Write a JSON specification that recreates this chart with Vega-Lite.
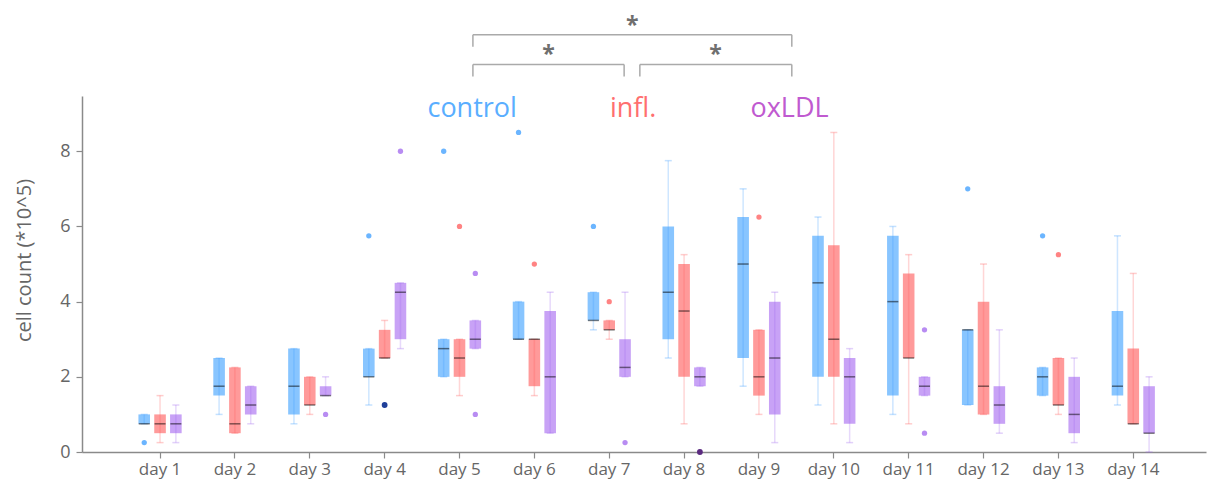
{
  "$schema": "https://vega.github.io/schema/vega-lite/v6.json",
  "width": 1124,
  "height": 356,
  "autosize": "none",
  "padding": {"left": 82, "top": 96, "right": 2, "bottom": 32},
  "config": {
    "font": "Open Sans",
    "view": {"stroke": null},
    "legend": {"disable": true},
    "axis": {
      "grid": false,
      "domainColor": "#8a8a8a",
      "domainWidth": 1.5,
      "tickColor": "#8a8a8a",
      "tickWidth": 1.2,
      "tickSize": 6,
      "labelColor": "#666666",
      "titleColor": "#666666",
      "labelFont": "Open Sans",
      "titleFont": "Open Sans",
      "titleFontWeight": "normal"
    },
    "axisX": {"labelFontSize": 17, "labelPadding": 3},
    "axisY": {"labelFontSize": 18, "labelPadding": 6, "titleFontSize": 20, "titleX": -52, "titleY": 164, "titleBaseline": "alphabetic", "titleAlign": "center", "titleAngle": -90, "tickCount": 5}
  },
  "datasets": {
    "boxes": [
      {"day": 1, "group": "control", "lo": 0.75, "q1": 0.75, "med": 0.75, "q3": 1.0, "hi": 1.0},
      {"day": 1, "group": "infl.", "lo": 0.25, "q1": 0.5, "med": 0.75, "q3": 1.0, "hi": 1.5},
      {"day": 1, "group": "oxLDL", "lo": 0.25, "q1": 0.5, "med": 0.75, "q3": 1.0, "hi": 1.25},
      {"day": 2, "group": "control", "lo": 1.0, "q1": 1.5, "med": 1.75, "q3": 2.5, "hi": 2.5},
      {"day": 2, "group": "infl.", "lo": 0.5, "q1": 0.5, "med": 0.75, "q3": 2.25, "hi": 2.25},
      {"day": 2, "group": "oxLDL", "lo": 0.75, "q1": 1.0, "med": 1.25, "q3": 1.75, "hi": 1.75},
      {"day": 3, "group": "control", "lo": 0.75, "q1": 1.0, "med": 1.75, "q3": 2.75, "hi": 2.75},
      {"day": 3, "group": "infl.", "lo": 1.0, "q1": 1.25, "med": 1.25, "q3": 2.0, "hi": 2.0},
      {"day": 3, "group": "oxLDL", "lo": 1.5, "q1": 1.5, "med": 1.5, "q3": 1.75, "hi": 2.0},
      {"day": 4, "group": "control", "lo": 1.25, "q1": 2.0, "med": 2.0, "q3": 2.75, "hi": 2.75},
      {"day": 4, "group": "infl.", "lo": 2.5, "q1": 2.5, "med": 2.5, "q3": 3.25, "hi": 3.5},
      {"day": 4, "group": "oxLDL", "lo": 2.75, "q1": 3.0, "med": 4.25, "q3": 4.5, "hi": 4.5},
      {"day": 5, "group": "control", "lo": 2.0, "q1": 2.0, "med": 2.75, "q3": 3.0, "hi": 3.0},
      {"day": 5, "group": "infl.", "lo": 1.5, "q1": 2.0, "med": 2.5, "q3": 3.0, "hi": 3.0},
      {"day": 5, "group": "oxLDL", "lo": 2.75, "q1": 2.75, "med": 3.0, "q3": 3.5, "hi": 3.5},
      {"day": 6, "group": "control", "lo": 3.0, "q1": 3.0, "med": 3.0, "q3": 4.0, "hi": 4.0},
      {"day": 6, "group": "infl.", "lo": 1.5, "q1": 1.75, "med": 3.0, "q3": 3.0, "hi": 3.0},
      {"day": 6, "group": "oxLDL", "lo": 0.5, "q1": 0.5, "med": 2.0, "q3": 3.75, "hi": 4.25},
      {"day": 7, "group": "control", "lo": 3.25, "q1": 3.5, "med": 3.5, "q3": 4.25, "hi": 4.25},
      {"day": 7, "group": "infl.", "lo": 3.0, "q1": 3.25, "med": 3.25, "q3": 3.5, "hi": 3.5},
      {"day": 7, "group": "oxLDL", "lo": 2.0, "q1": 2.0, "med": 2.25, "q3": 3.0, "hi": 4.25},
      {"day": 8, "group": "control", "lo": 2.5, "q1": 3.0, "med": 4.25, "q3": 6.0, "hi": 7.75},
      {"day": 8, "group": "infl.", "lo": 0.75, "q1": 2.0, "med": 3.75, "q3": 5.0, "hi": 5.25},
      {"day": 8, "group": "oxLDL", "lo": 1.75, "q1": 1.75, "med": 2.0, "q3": 2.25, "hi": 2.25},
      {"day": 9, "group": "control", "lo": 1.75, "q1": 2.5, "med": 5.0, "q3": 6.25, "hi": 7.0},
      {"day": 9, "group": "infl.", "lo": 1.0, "q1": 1.5, "med": 2.0, "q3": 3.25, "hi": 3.25},
      {"day": 9, "group": "oxLDL", "lo": 0.25, "q1": 1.0, "med": 2.5, "q3": 4.0, "hi": 4.25},
      {"day": 10, "group": "control", "lo": 1.25, "q1": 2.0, "med": 4.5, "q3": 5.75, "hi": 6.25},
      {"day": 10, "group": "infl.", "lo": 0.75, "q1": 2.0, "med": 3.0, "q3": 5.5, "hi": 8.5},
      {"day": 10, "group": "oxLDL", "lo": 0.25, "q1": 0.75, "med": 2.0, "q3": 2.5, "hi": 2.75},
      {"day": 11, "group": "control", "lo": 1.0, "q1": 1.5, "med": 4.0, "q3": 5.75, "hi": 6.0},
      {"day": 11, "group": "infl.", "lo": 0.75, "q1": 2.5, "med": 2.5, "q3": 4.75, "hi": 5.25},
      {"day": 11, "group": "oxLDL", "lo": 1.5, "q1": 1.5, "med": 1.75, "q3": 2.0, "hi": 2.0},
      {"day": 12, "group": "control", "lo": 1.25, "q1": 1.25, "med": 3.25, "q3": 3.25, "hi": 3.25},
      {"day": 12, "group": "infl.", "lo": 1.0, "q1": 1.0, "med": 1.75, "q3": 4.0, "hi": 5.0},
      {"day": 12, "group": "oxLDL", "lo": 0.5, "q1": 0.75, "med": 1.25, "q3": 1.75, "hi": 3.25},
      {"day": 13, "group": "control", "lo": 1.5, "q1": 1.5, "med": 2.0, "q3": 2.25, "hi": 2.25},
      {"day": 13, "group": "infl.", "lo": 1.0, "q1": 1.25, "med": 1.25, "q3": 2.5, "hi": 2.5},
      {"day": 13, "group": "oxLDL", "lo": 0.25, "q1": 0.5, "med": 1.0, "q3": 2.0, "hi": 2.5},
      {"day": 14, "group": "control", "lo": 1.25, "q1": 1.5, "med": 1.75, "q3": 3.75, "hi": 5.75},
      {"day": 14, "group": "infl.", "lo": 0.75, "q1": 0.75, "med": 0.75, "q3": 2.75, "hi": 4.75},
      {"day": 14, "group": "oxLDL", "lo": 0.0, "q1": 0.5, "med": 0.5, "q3": 1.75, "hi": 2.0}
    ],
    "outliers": [
      {"day": 1, "group": "control", "value": 0.25, "kind": "outlier"},
      {"day": 3, "group": "oxLDL", "value": 1.0, "kind": "outlier"},
      {"day": 4, "group": "control", "value": 5.75, "kind": "outlier"},
      {"day": 4, "group": "infl.", "value": 1.25, "kind": "extreme"},
      {"day": 4, "group": "oxLDL", "value": 8.0, "kind": "outlier"},
      {"day": 5, "group": "control", "value": 8.0, "kind": "outlier"},
      {"day": 5, "group": "infl.", "value": 6.0, "kind": "outlier"},
      {"day": 5, "group": "oxLDL", "value": 4.75, "kind": "outlier"},
      {"day": 5, "group": "oxLDL", "value": 1.0, "kind": "outlier"},
      {"day": 6, "group": "control", "value": 8.5, "kind": "outlier"},
      {"day": 6, "group": "infl.", "value": 5.0, "kind": "outlier"},
      {"day": 7, "group": "control", "value": 6.0, "kind": "outlier"},
      {"day": 7, "group": "infl.", "value": 4.0, "kind": "outlier"},
      {"day": 7, "group": "oxLDL", "value": 0.25, "kind": "outlier"},
      {"day": 8, "group": "oxLDL", "value": 0.0, "kind": "extreme"},
      {"day": 9, "group": "infl.", "value": 6.25, "kind": "outlier"},
      {"day": 11, "group": "oxLDL", "value": 3.25, "kind": "outlier"},
      {"day": 11, "group": "oxLDL", "value": 0.5, "kind": "outlier"},
      {"day": 12, "group": "control", "value": 7.0, "kind": "outlier"},
      {"day": 13, "group": "control", "value": 5.75, "kind": "outlier"},
      {"day": 13, "group": "infl.", "value": 5.25, "kind": "outlier"}
    ],
    "brackets": [
      {"from": 5.18, "to": 9.44, "level": 11.1, "foot": 10.78, "mid": 7.31},
      {"from": 5.18, "to": 7.2, "level": 10.31, "foot": 9.99, "mid": 6.19},
      {"from": 7.41, "to": 9.44, "level": 10.31, "foot": 9.99, "mid": 8.42}
    ],
    "labels": [
      {"group": "control", "pos": 5.17, "level": 8.92},
      {"group": "infl.", "pos": 7.32, "level": 8.92},
      {"group": "oxLDL", "pos": 9.41, "level": 8.92}
    ]
  },
  "resolve": {"scale": {"x": "independent", "color": "independent"}},
  "layer": [
    {
      "encoding": {
        "x": {
          "field": "day", "type": "ordinal",
          "scale": {"type": "band", "paddingInner": 0, "paddingOuter": 0.507, "align": 0.535},
          "axis": {"title": null, "labelExpr": "'day ' + datum.label", "labelAngle": 0, "bandPosition": 0.5}
        },
        "xOffset": {
          "field": "group", "type": "nominal",
          "scale": {"domain": ["control", "infl.", "oxLDL"], "paddingInner": 0.267, "paddingOuter": 1.129}
        }
      },
      "layer": [
        {
          "data": {"name": "boxes"},
          "mark": {"type": "bar"},
          "encoding": {
            "y": {"field": "q1", "type": "quantitative", "scale": {"domain": [0, 9.47], "nice": false}, "title": "cell count (*10^5)"},
            "y2": {"field": "q3"},
            "fill": {"field": "group", "type": "nominal", "scale": {"domain": ["control", "infl.", "oxLDL"], "range": ["#88c5ff", "#ff9a9a", "#c8a2f6"]}}
          }
        },
        {
          "data": {"name": "boxes"},
          "mark": {"type": "rule", "strokeWidth": 1.5, "opacity": 0.25},
          "encoding": {
            "y": {"field": "lo", "type": "quantitative", "scale": {"domain": [0, 9.47], "nice": false}, "title": "cell count (*10^5)"},
            "y2": {"field": "hi"},
            "color": {"field": "group", "type": "nominal", "scale": {"domain": ["control", "infl.", "oxLDL"], "range": ["#3a9cff", "#ff5a5a", "#a066ee"]}}
          }
        },
        {
          "data": {"name": "boxes"},
          "mark": {"type": "tick", "thickness": 1.5, "size": 7, "opacity": 0.3},
          "encoding": {
            "y": {"field": "lo", "type": "quantitative", "scale": {"domain": [0, 9.47], "nice": false}, "title": "cell count (*10^5)"},
            "color": {"field": "group", "type": "nominal", "scale": {"domain": ["control", "infl.", "oxLDL"], "range": ["#3a9cff", "#ff5a5a", "#a066ee"]}}
          }
        },
        {
          "data": {"name": "boxes"},
          "mark": {"type": "tick", "thickness": 1.5, "size": 7, "opacity": 0.3},
          "encoding": {
            "y": {"field": "hi", "type": "quantitative", "scale": {"domain": [0, 9.47], "nice": false}, "title": "cell count (*10^5)"},
            "color": {"field": "group", "type": "nominal", "scale": {"domain": ["control", "infl.", "oxLDL"], "range": ["#3a9cff", "#ff5a5a", "#a066ee"]}}
          }
        },
        {
          "data": {"name": "boxes"},
          "mark": {"type": "tick", "thickness": 1.5, "size": 11, "color": "#000000", "opacity": 0.5},
          "encoding": {
            "y": {"field": "med", "type": "quantitative", "scale": {"domain": [0, 9.47], "nice": false}, "title": "cell count (*10^5)"}
          }
        },
        {
          "data": {"name": "outliers"},
          "transform": [{"filter": "datum.kind == 'outlier'"}],
          "mark": {"type": "point", "filled": true, "shape": "circle", "size": 28, "opacity": 0.75},
          "encoding": {
            "y": {"field": "value", "type": "quantitative", "scale": {"domain": [0, 9.47], "nice": false}, "title": "cell count (*10^5)"},
            "color": {"field": "group", "type": "nominal", "scale": {"domain": ["control", "infl.", "oxLDL"], "range": ["#3a9cff", "#ff5a5a", "#a066ee"]}}
          }
        },
        {
          "data": {"name": "outliers"},
          "transform": [{"filter": "datum.kind == 'extreme'"}],
          "mark": {"type": "point", "filled": false, "shape": "circle", "size": 8, "strokeWidth": 3, "opacity": 1},
          "encoding": {
            "y": {"field": "value", "type": "quantitative", "scale": {"domain": [0, 9.47], "nice": false}, "title": "cell count (*10^5)"},
            "stroke": {"field": "group", "type": "nominal", "scale": {"domain": ["infl.", "oxLDL"], "range": ["#1f3f99", "#5b2a80"]}}
          }
        }
      ]
    },
    {
      "encoding": {
        "x": {"type": "quantitative", "scale": {"domain": [-0.042, 14.973], "nice": false, "zero": false}, "axis": null}
      },
      "layer": [
        {
          "data": {"name": "brackets"},
          "mark": {"type": "rule", "color": "#aaaaaa", "strokeWidth": 1.5},
          "encoding": {
            "x": {"field": "from", "type": "quantitative", "scale": {"domain": [-0.042, 14.973], "nice": false, "zero": false}, "axis": null},
            "x2": {"field": "to"},
            "y": {"field": "level", "type": "quantitative", "scale": {"domain": [0, 9.47], "nice": false}, "title": "cell count (*10^5)"}
          }
        },
        {
          "data": {"name": "brackets"},
          "mark": {"type": "rule", "color": "#aaaaaa", "strokeWidth": 1.5},
          "encoding": {
            "x": {"field": "from", "type": "quantitative", "scale": {"domain": [-0.042, 14.973], "nice": false, "zero": false}, "axis": null},
            "y": {"field": "level", "type": "quantitative", "scale": {"domain": [0, 9.47], "nice": false}, "title": "cell count (*10^5)"},
            "y2": {"field": "foot"}
          }
        },
        {
          "data": {"name": "brackets"},
          "mark": {"type": "rule", "color": "#aaaaaa", "strokeWidth": 1.5},
          "encoding": {
            "x": {"field": "to", "type": "quantitative", "scale": {"domain": [-0.042, 14.973], "nice": false, "zero": false}, "axis": null},
            "y": {"field": "level", "type": "quantitative", "scale": {"domain": [0, 9.47], "nice": false}, "title": "cell count (*10^5)"},
            "y2": {"field": "foot"}
          }
        },
        {
          "data": {"name": "brackets"},
          "mark": {"type": "text", "text": "*", "fontSize": 23, "fontWeight": "bold", "color": "#6f6f6f", "baseline": "alphabetic", "align": "center", "dy": -2},
          "encoding": {
            "x": {"field": "mid", "type": "quantitative", "scale": {"domain": [-0.042, 14.973], "nice": false, "zero": false}, "axis": null},
            "y": {"field": "level", "type": "quantitative", "scale": {"domain": [0, 9.47], "nice": false}, "title": "cell count (*10^5)"}
          }
        },
        {
          "data": {"name": "labels"},
          "mark": {"type": "text", "fontSize": 27, "baseline": "alphabetic", "align": "center"},
          "encoding": {
            "x": {"field": "pos", "type": "quantitative", "scale": {"domain": [-0.042, 14.973], "nice": false, "zero": false}, "axis": null},
            "y": {"field": "level", "type": "quantitative", "scale": {"domain": [0, 9.47], "nice": false}, "title": "cell count (*10^5)"},
            "text": {"field": "group"},
            "color": {"field": "group", "type": "nominal", "scale": {"domain": ["control", "infl.", "oxLDL"], "range": ["#5aaeff", "#ff6f6f", "#c05ad0"]}}
          }
        }
      ]
    }
  ]
}
